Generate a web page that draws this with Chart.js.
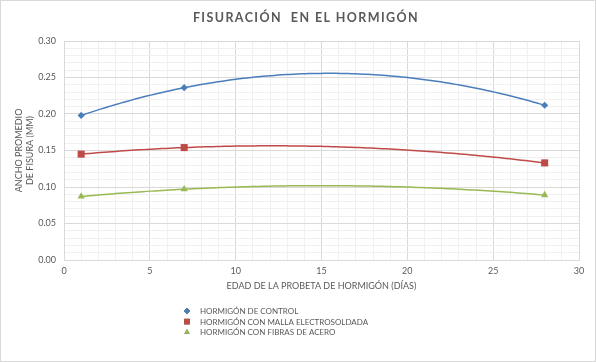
<!DOCTYPE html>
<html><head><meta charset="utf-8">
<script src="https://cdn.jsdelivr.net/npm/chart.js@4"></script>
<style>html,body{margin:0;padding:0;background:#fff}#wrap{width:596px;height:362px}</style>
</head><body><div id="wrap"><canvas id="c" width="596" height="362"></canvas></div>
<script>
const titleText = 'FISURACIÓN  EN EL HORMIGÓN';
const xTitle = 'EDAD DE LA PROBETA DE HORMIGÓN (DÍAS)';
const yTitle = ['ANCHO PROMEDIO', 'DE FISURA (MM)'];
const seriesNames = ['HORMIGÓN DE CONTROL', 'HORMIGÓN CON MALLA ELECTROSOLDADA', 'HORMIGÓN CON FIBRAS DE ACERO'];
const days = [1, 7, 28];
const control = [0.198, 0.236, 0.212];
const malla = [0.145, 0.154, 0.133];
const fibras = [0.087, 0.097, 0.089];
const colors = ['#4A7EBB', '#BE4B48', '#98B954'];
const styles = ['rectRot', 'rect', 'triangle'];
const radii = [3.6, 5, 4.2];

const FONT = 'Lato, "Open Sans", sans-serif';
const GRAY = '#595959';

function mkData(vals){ return days.map((d,i)=>({x:d, y:vals[i]})); }

// quadratic least-squares trendline drawn through the chart's scales
function fitQuad(pts){
  let n=pts.length,sx=0,sx2=0,sx3=0,sx4=0,sy=0,sxy=0,sx2y=0;
  pts.forEach(p=>{const x=p.x,y=p.y;sx+=x;sx2+=x*x;sx3+=x*x*x;sx4+=x*x*x*x;sy+=y;sxy+=x*y;sx2y+=x*x*y;});
  const M=[[sx4,sx3,sx2,sx2y],[sx3,sx2,sx,sxy],[sx2,sx,n,sy]];
  for(let i=0;i<3;i++){let p=M[i][i];for(let j=i;j<4;j++)M[i][j]/=p;
    for(let k=0;k<3;k++)if(k!==i){let f=M[k][i];for(let j=i;j<4;j++)M[k][j]-=f*M[i][j];}}
  return [M[0][3],M[1][3],M[2][3]];
}
const trendPlugin = {
  id:'trend',
  beforeDatasetsDraw(chart){
    const {ctx, scales:{x,y}} = chart;
    chart.data.datasets.forEach(ds=>{
      const [a,b,c] = fitQuad(ds.data);
      const xs = ds.data.map(p=>p.x);
      const x0=Math.min(...xs), x1=Math.max(...xs);
      ctx.save();
      ctx.beginPath();
      for(let i=0;i<=120;i++){
        const xv = x0+(x1-x0)*i/120, yv=a*xv*xv+b*xv+c;
        const px=x.getPixelForValue(xv), py=y.getPixelForValue(yv);
        i?ctx.lineTo(px,py):ctx.moveTo(px,py);
      }
      ctx.strokeStyle=ds.borderColor; ctx.lineWidth=1.5; ctx.stroke();
      ctx.restore();
    });
  }
};
const decoPlugin = {
  id:'deco',
  afterDraw(chart){
    const ctx=chart.ctx;
    ctx.save();
    ctx.strokeStyle='#d9d9d9'; ctx.lineWidth=1;
    ctx.strokeRect(0.5,0.5,595,361);
    // title
    ctx.fillStyle=GRAY; ctx.font='bold 12.5px '+FONT;
    ctx.letterSpacing='1.4px';
    ctx.textAlign='center'; ctx.textBaseline='middle';
    ctx.fillText(titleText, 306, 18);
    ctx.letterSpacing='0px';
    // legend
    ctx.font='8px '+FONT; ctx.textAlign='left';
    chart.data.datasets.forEach((ds,i)=>{
      const yy = 311 + i*10.6;
      Chart.helpers.drawPoint(ctx,{pointStyle:ds.pointStyle,radius:ds.pointStyle==='rect'?4:3.2,borderWidth:0,rotation:0},187,yy);
      ctx.fillStyle=ds.backgroundColor; ctx.fill();
      ctx.fillStyle=GRAY;
      ctx.fillText(ds.label,200,yy+0.5);
    });
    ctx.restore();
  }
};
function isMajor(v, step){ return Math.abs(v/step - Math.round(v/step))<1e-6; }

new Chart(document.getElementById('c'), {
  type:'scatter',
  data:{datasets:[control,malla,fibras].map((vals,i)=>({
    label:seriesNames[i], data:mkData(vals), showLine:false,
    pointStyle:styles[i], pointRadius:radii[i], pointHoverRadius:radii[i],
    backgroundColor:colors[i], borderColor:colors[i], pointBorderWidth:0
  }))},
  options:{
    responsive:false, animation:false, devicePixelRatio:1,
    layout:{padding:{left:0,right:17,top:41,bottom:67}},
    plugins:{legend:{display:false}, title:{display:false}, tooltip:{enabled:false}},
    scales:{
      x:{type:'linear', min:0, max:30,
        afterFit(s){ s.height=35; },
        border:{display:true,color:'#d9d9d9'},
        grid:{drawTicks:false, color:ctx=>isMajor(ctx.tick.value,5)?'#d9d9d9':'#f0f0f0'},
        ticks:{stepSize:1, autoSkip:false, maxRotation:0, padding:6, color:GRAY, font:{family:FONT,size:9},
          callback:v=>isMajor(v,5)?String(v):''},
        title:{display:true,text:xTitle,color:GRAY,font:{family:FONT,size:9},padding:{top:0,bottom:4}}
      },
      y:{type:'linear', min:0, max:0.3,
        afterFit(s){ s.width=64; },
        border:{display:true,color:'#d9d9d9'},
        grid:{drawTicks:false, color:ctx=>isMajor(ctx.tick.value,0.05)?'#d9d9d9':'#f0f0f0'},
        ticks:{stepSize:0.01, autoSkip:false, padding:8, color:GRAY, font:{family:FONT,size:9},
          callback:v=>isMajor(v,0.05)?v.toFixed(2):''},
        title:{display:true,text:yTitle,color:GRAY,font:{family:FONT,size:9,lineHeight:1.2},padding:{top:14,bottom:0}}
      }
    }
  },
  plugins:[trendPlugin, decoPlugin]
});
</script></body></html>
